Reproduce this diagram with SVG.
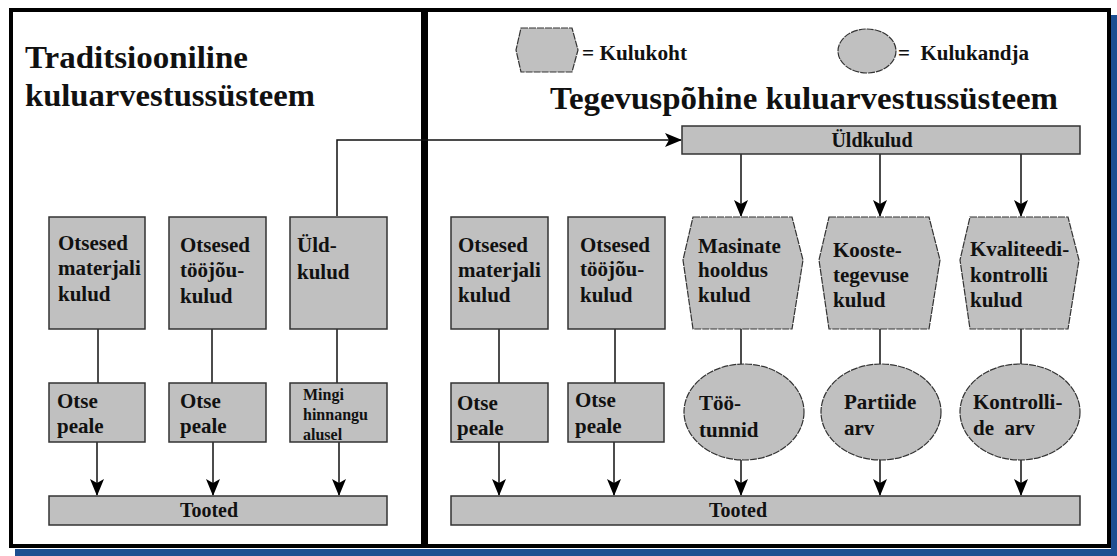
<svg xmlns="http://www.w3.org/2000/svg" width="1117" height="556" viewBox="0 0 1117 556">
<style>
  .t{font-family:"Liberation Serif","Times New Roman",serif;font-weight:bold;fill:#111}
  .b{font-size:21px}
  .s{font-size:16px}
  .ti{font-size:32px}
  .lg{font-size:20px}
  .box{fill:#c0c0c0;stroke:#333;stroke-width:1.5}
  .shp{fill:#c0c0c0;stroke:#333;stroke-width:1.2;stroke-dasharray:7 1}
  .ln{stroke:#111;stroke-width:1.5;fill:none}
  .frame{fill:none;stroke:#000;stroke-width:4}
</style>
<defs>
  <marker id="ah" markerWidth="17" markerHeight="14" refX="16" refY="7" orient="auto" markerUnits="userSpaceOnUse" viewBox="0 0 17 14">
    <path d="M0,0 L17,7 L0,14 L4,7 Z" fill="#000"/>
  </marker>
</defs>
<rect width="1117" height="556" fill="#fff"/>
<g id="shadow">
  <rect x="15" y="549" width="1102" height="7" fill="#1d4f91"/>
  <rect x="1111" y="15" width="6" height="541" fill="#1d4f91"/>
</g>
<g id="panels">
  <rect class="frame" x="11" y="10" width="412" height="536"/>
  <rect class="frame" x="426" y="10" width="683" height="536"/>
</g>
<g id="titles">
  <text class="t ti" x="25" y="68" textLength="223" lengthAdjust="spacingAndGlyphs">Traditsiooniline</text>
  <text class="t ti" x="25" y="106" textLength="290" lengthAdjust="spacingAndGlyphs">kuluarvestussüsteem</text>
  <text class="t ti" x="550" y="109" textLength="508" lengthAdjust="spacingAndGlyphs">Tegevuspõhine kuluarvestussüsteem</text>
</g>
<g id="legend">
  <polygon class="shp" points="521,28 572,28 578,50 572,72 521,72 516,50"/>
  <text class="t lg" x="582" y="60" textLength="105" lengthAdjust="spacingAndGlyphs">= Kulukoht</text>
  <ellipse class="shp" cx="867" cy="51" rx="29" ry="22"/>
  <text class="t lg" x="898" y="60" textLength="131" lengthAdjust="spacingAndGlyphs" xml:space="preserve">=  Kulukandja</text>
</g>
<g id="connectors">
  <line class="ln" x1="98" y1="329" x2="98" y2="383"/>
  <line class="ln" x1="212" y1="329" x2="212" y2="383"/>
  <line class="ln" x1="337" y1="329" x2="337" y2="383"/>
  <line class="ln" x1="97" y1="442" x2="97" y2="495" marker-end="url(#ah)"/>
  <line class="ln" x1="213" y1="442" x2="213" y2="495" marker-end="url(#ah)"/>
  <line class="ln" x1="339" y1="442" x2="339" y2="495" marker-end="url(#ah)"/>
  <polyline class="ln" points="337,216 337,140 681,140" marker-end="url(#ah)"/>
  <line class="ln" x1="741" y1="154" x2="741" y2="216" marker-end="url(#ah)"/>
  <line class="ln" x1="880" y1="154" x2="880" y2="216" marker-end="url(#ah)"/>
  <line class="ln" x1="1021" y1="154" x2="1021" y2="216" marker-end="url(#ah)"/>
  <line class="ln" x1="499" y1="329" x2="499" y2="383"/>
  <line class="ln" x1="615" y1="329" x2="615" y2="383"/>
  <line class="ln" x1="741" y1="329" x2="741" y2="364"/>
  <line class="ln" x1="880" y1="329" x2="880" y2="364"/>
  <line class="ln" x1="1021" y1="329" x2="1021" y2="364"/>
  <line class="ln" x1="499" y1="442" x2="499" y2="495" marker-end="url(#ah)"/>
  <line class="ln" x1="614" y1="442" x2="614" y2="495" marker-end="url(#ah)"/>
  <line class="ln" x1="741" y1="460" x2="741" y2="495" marker-end="url(#ah)"/>
  <line class="ln" x1="880" y1="460" x2="880" y2="495" marker-end="url(#ah)"/>
  <line class="ln" x1="1021" y1="460" x2="1021" y2="495" marker-end="url(#ah)"/>
</g>
<g id="l-mat">
  <rect class="box" x="49" y="217" width="96" height="112"/>
  <text class="t b" x="58" y="250">Otsesed</text>
  <text class="t b" x="58" y="275">materjali</text>
  <text class="t b" x="58" y="301">kulud</text>
</g>
<g id="l-too">
  <rect class="box" x="169" y="217" width="97" height="112"/>
  <text class="t b" x="180" y="252">Otsesed</text>
  <text class="t b" x="180" y="277">tööjõu-</text>
  <text class="t b" x="180" y="303">kulud</text>
</g>
<g id="l-yld">
  <rect class="box" x="290" y="217" width="97" height="112"/>
  <text class="t b" x="297" y="252">Üld-</text>
  <text class="t b" x="297" y="279">kulud</text>
</g>
<g id="l-otse1">
  <rect class="box" x="49" y="383" width="96" height="59"/>
  <text class="t b" x="57" y="408">Otse</text>
  <text class="t b" x="57" y="433">peale</text>
</g>
<g id="l-otse2">
  <rect class="box" x="169" y="383" width="97" height="59"/>
  <text class="t b" x="180" y="408">Otse</text>
  <text class="t b" x="180" y="433">peale</text>
</g>
<g id="l-mingi">
  <rect class="box" x="290" y="383" width="97" height="59"/>
  <text class="t s" x="303" y="400">Mingi</text>
  <text class="t s" x="303" y="420">hinnangu</text>
  <text class="t s" x="303" y="440">alusel</text>
</g>
<g id="l-tooted">
  <rect class="box" x="49" y="496" width="338" height="29"/>
  <text class="t lg" x="209" y="517" text-anchor="middle">Tooted</text>
</g>
<g id="r-yldkulud">
  <rect class="box" x="682" y="126" width="398" height="28"/>
  <text class="t lg" x="872" y="147" text-anchor="middle">Üldkulud</text>
</g>
<g id="r-mat">
  <rect class="box" x="451" y="217" width="97" height="112"/>
  <text class="t b" x="458" y="252">Otsesed</text>
  <text class="t b" x="458" y="277">materjali</text>
  <text class="t b" x="458" y="302">kulud</text>
</g>
<g id="r-too">
  <rect class="box" x="568" y="217" width="97" height="112"/>
  <text class="t b" x="580" y="252">Otsesed</text>
  <text class="t b" x="580" y="276">tööjõu-</text>
  <text class="t b" x="580" y="302">kulud</text>
</g>
<g id="r-masinate">
  <polygon class="shp" points="693,217 792,217 803,260 792,329 693,329 683,260"/>
  <text class="t b" x="698" y="253">Masinate</text>
  <text class="t b" x="698" y="277">hooldus</text>
  <text class="t b" x="698" y="302">kulud</text>
</g>
<g id="r-kooste">
  <polygon class="shp" points="829,217 929,217 940,260 929,329 829,329 819,260"/>
  <text class="t b" x="833" y="257">Kooste-</text>
  <text class="t b" x="833" y="282">tegevuse</text>
  <text class="t b" x="833" y="307">kulud</text>
</g>
<g id="r-kvaliteedi">
  <polygon class="shp" points="970,217 1068,217 1079,260 1068,329 970,329 960,260"/>
  <text class="t b" x="970" y="256">Kvaliteedi-</text>
  <text class="t b" x="970" y="282">kontrolli</text>
  <text class="t b" x="970" y="307">kulud</text>
</g>
<g id="r-otse1">
  <rect class="box" x="451" y="383" width="97" height="59"/>
  <text class="t b" x="457" y="410">Otse</text>
  <text class="t b" x="457" y="435">peale</text>
</g>
<g id="r-otse2">
  <rect class="box" x="568" y="383" width="96" height="59"/>
  <text class="t b" x="575" y="407">Otse</text>
  <text class="t b" x="575" y="433">peale</text>
</g>
<g id="r-tootunnid">
  <ellipse class="shp" cx="744" cy="412" rx="60" ry="48"/>
  <text class="t b" x="699" y="410">Töö-</text>
  <text class="t b" x="699" y="437">tunnid</text>
</g>
<g id="r-partiide">
  <ellipse class="shp" cx="881" cy="412" rx="60" ry="48"/>
  <text class="t b" x="844" y="409">Partiide</text>
  <text class="t b" x="844" y="435">arv</text>
</g>
<g id="r-kontrollide">
  <ellipse class="shp" cx="1020" cy="412" rx="60" ry="48"/>
  <text class="t b" x="973" y="409">Kontrolli-</text>
  <text class="t b" x="973" y="435" xml:space="preserve">de  arv</text>
</g>
<g id="r-tooted">
  <rect class="box" x="451" y="496" width="629" height="29"/>
  <text class="t lg" x="738" y="517" text-anchor="middle">Tooted</text>
</g>
</svg>
